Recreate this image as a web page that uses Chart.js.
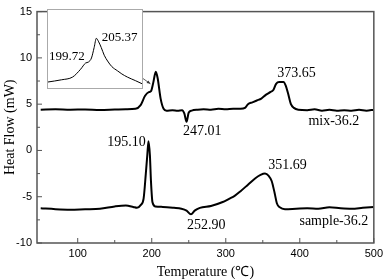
<!DOCTYPE html>
<html>
<head>
<meta charset="utf-8">
<script src="https://cdn.jsdelivr.net/npm/chart.js@4.4.1/dist/chart.umd.min.js"></script>
<style>
  html, body { margin: 0; padding: 0; background: #fff; }
  #wrap { position: relative; width: 387px; height: 279px; }
  #inset { position: absolute; left: 47px; top: 9px; width: 94px; height: 78px; border: 1px solid #aaa; background: #fff; }
</style>
</head>
<body>
<div id="wrap">
  <canvas id="main" width="387" height="279"></canvas>
  <div id="inset"><canvas id="zoom" width="94" height="78"></canvas></div>
</div>
<script>
// temperature (°C) and heat flow (mW)
const mixT = [50, 70, 90, 110, 130, 150, 165, 178, 185, 191, 196, 199, 202, 205.5, 208, 212, 216, 220, 228, 235, 241, 244, 247, 250, 254, 262, 270, 280, 290, 300, 310, 320, 326, 330, 336, 342, 348, 354, 360, 364, 368, 372, 378, 381, 384, 388, 392, 398, 410, 420, 430, 440, 450, 460, 470, 480, 490, 500];
const mixHF = [4.4, 4.45, 4.4, 4.42, 4.38, 4.42, 4.45, 4.5, 4.9, 5.9, 6.3, 6.4, 7.3, 8.5, 7.8, 5.6, 4.5, 4.3, 4.35, 4.3, 4.35, 4.0, 3.1, 4.1, 4.3, 4.4, 4.45, 4.4, 4.5, 4.45, 4.5, 4.5, 4.6, 5.0, 5.2, 5.4, 5.6, 6.0, 6.3, 6.5, 7.2, 7.4, 7.4, 7.0, 6.2, 5.0, 4.6, 4.4, 4.35, 4.45, 4.3, 4.4, 4.3, 4.35, 4.3, 4.4, 4.3, 4.4];

const sampleT = [50, 70, 90, 110, 130, 150, 165, 175, 180, 185, 189, 192, 194, 195.6, 197.5, 199, 201, 205, 215, 230, 240, 247, 253, 258, 265, 280, 295, 305, 312, 320, 330, 340, 347, 353, 358, 362, 366, 369, 373, 380, 395, 410, 425, 440, 455, 470, 485, 500];
const sampleHF = [-6.25, -6.35, -6.4, -6.35, -6.3, -6.05, -5.95, -6.1, -6.2, -5.9, -5.2, -2.5, -0.5, 1.0, -0.5, -3.4, -5.6, -6.05, -6.1, -6.2, -6.3, -6.5, -6.9, -6.5, -6.2, -6.0, -5.6, -5.2, -4.9, -4.4, -3.7, -3.0, -2.65, -2.5, -2.75, -3.3, -4.6, -5.7, -6.15, -6.35, -6.3, -6.25, -6.3, -6.15, -6.25, -6.3, -6.2, -6.1];

// inset: enlarged view of the mix-36.2 melting peak (arbitrary y units)
const insetT = [176, 184, 190.7, 195.4, 198.4, 200.1, 201.9, 203.5, 204.8, 206, 207.7, 209.5, 211.5, 214, 217.4, 220, 223.3, 228, 232];
const insetHF = [0.77, 1.05, 1.41, 2.4, 3.2, 3.33, 3.85, 5.2, 6.37, 6.0, 5.2, 4.2, 3.46, 2.75, 2.2, 1.8, 1.4, 0.95, 0.55];

const xTicks = [100, 200, 300, 400, 500];
const xMinor = [150, 250, 350, 450];
const yTicks = [-10, -5, 0, 5, 10, 15];
const yMinor = [-7.5, -2.5, 2.5, 7.5, 12.5];

const peakLabels = [
  { t: 192, v: 0.85, text: '195.10', align: 'right' },
  { t: 268.3, v: 2.05, text: '247.01', align: 'center' },
  { t: 395.5, v: 8.35, text: '373.65', align: 'center' },
  { t: 446, v: 3.1, text: 'mix-36.2', align: 'center' },
  { t: 273.6, v: -8.1, text: '252.90', align: 'center' },
  { t: 383.3, v: -1.63, text: '351.69', align: 'center' },
  { t: 446, v: -7.66, text: 'sample-36.2', align: 'center' }
];
const insetLabels = [
  { t: 187.3, v: 3.97, text: '199.72' },
  { t: 218.6, v: 6.5, text: '205.37' }
];
const arrowFrom = { t: 186.6, v: 7.86 };
const arrowTo = { t: 198.2, v: 7.2 };

const serif = "'Liberation Serif', 'Times New Roman', serif";
const sans = "'Liberation Sans', Arial, sans-serif";

function pts(xs, ys) { return xs.map((x, i) => ({ x: x, y: ys[i] })); }

const frame = {
  id: 'frame',
  afterDatasetsDraw(chart) {
    const { ctx, chartArea: a, scales: { x, y } } = chart;
    ctx.save();
    ctx.strokeStyle = '#555';
    ctx.lineWidth = 1.5;
    ctx.strokeRect(a.left, a.top, a.right - a.left, a.bottom - a.top);
    ctx.lineWidth = 1;
    ctx.beginPath();
    xTicks.forEach(t => { const px = x.getPixelForValue(t); ctx.moveTo(px, a.bottom); ctx.lineTo(px, a.bottom - 5); });
    xMinor.forEach(t => { const px = x.getPixelForValue(t); ctx.moveTo(px, a.bottom); ctx.lineTo(px, a.bottom - 3); });
    yTicks.forEach(v => { const py = y.getPixelForValue(v); ctx.moveTo(a.left, py); ctx.lineTo(a.left + 5, py); });
    yMinor.forEach(v => { const py = y.getPixelForValue(v); ctx.moveTo(a.left, py); ctx.lineTo(a.left + 3, py); });
    ctx.stroke();

    // peak labels
    ctx.fillStyle = '#000';
    ctx.font = '14px ' + serif;
    ctx.textBaseline = 'middle';
    peakLabels.forEach(l => {
      ctx.textAlign = l.align;
      ctx.fillText(l.text, x.getPixelForValue(l.t), y.getPixelForValue(l.v));
    });

    // arrow from inset to the peak
    const x1 = x.getPixelForValue(arrowFrom.t), y1 = y.getPixelForValue(arrowFrom.v);
    const x2 = x.getPixelForValue(arrowTo.t), y2 = y.getPixelForValue(arrowTo.v);
    const ang = Math.atan2(y2 - y1, x2 - x1);
    ctx.strokeStyle = '#333';
    ctx.lineWidth = 0.8;
    ctx.beginPath(); ctx.moveTo(x1, y1); ctx.lineTo(x2, y2); ctx.stroke();
    ctx.fillStyle = '#333';
    ctx.beginPath();
    ctx.moveTo(x2, y2);
    ctx.lineTo(x2 - 4 * Math.cos(ang - 0.4), y2 - 4 * Math.sin(ang - 0.4));
    ctx.lineTo(x2 - 4 * Math.cos(ang + 0.4), y2 - 4 * Math.sin(ang + 0.4));
    ctx.closePath(); ctx.fill();
    ctx.restore();
  }
};

new Chart(document.getElementById('main'), {
  type: 'line',
  data: {
    datasets: [
      { label: 'mix-36.2', data: pts(mixT, mixHF), borderColor: '#000', borderWidth: 2, pointRadius: 0, cubicInterpolationMode: 'monotone' },
      { label: 'sample-36.2', data: pts(sampleT, sampleHF), borderColor: '#000', borderWidth: 2, pointRadius: 0, cubicInterpolationMode: 'monotone' }
    ]
  },
  options: {
    responsive: false,
    animation: false,
    devicePixelRatio: 1,
    layout: { padding: { top: 5, right: 10, left: 0, bottom: 0 } },
    plugins: { legend: { display: false }, tooltip: { enabled: false } },
    scales: {
      x: {
        type: 'linear',
        min: 45,
        max: 500,
        afterBuildTicks: s => { s.ticks = xTicks.map(v => ({ value: v })); },
        afterFit: s => { s.height = 36; },
        grid: { display: false, drawTicks: false },
        border: { display: false },
        ticks: { color: '#000', font: { family: sans, size: 11 }, padding: 4, maxRotation: 0 },
        title: { display: true, text: 'Temperature (℃)', color: '#000', font: { family: serif, size: 14, lineHeight: 1 }, padding: 0 }
      },
      y: {
        min: -10,
        max: 15,
        afterBuildTicks: s => { s.ticks = yTicks.map(v => ({ value: v })); },
        afterFit: s => { s.width = 37; },
        grid: { display: false, drawTicks: false },
        border: { display: false },
        ticks: { color: '#000', font: { family: sans, size: 11 }, padding: 5 },
        title: { display: true, text: 'Heat Flow (mW)', color: '#000', font: { family: serif, size: 14, lineHeight: 1 }, padding: { top: 3, bottom: 0 } }
      }
    }
  },
  plugins: [frame]
});

const insetText = {
  id: 'insetText',
  afterDatasetsDraw(chart) {
    const { ctx, scales: { x, y } } = chart;
    ctx.save();
    ctx.fillStyle = '#000';
    ctx.font = '13px ' + serif;
    ctx.textAlign = 'center';
    ctx.textBaseline = 'middle';
    insetLabels.forEach(l => ctx.fillText(l.text, x.getPixelForValue(l.t), y.getPixelForValue(l.v)));
    ctx.restore();
  }
};

new Chart(document.getElementById('zoom'), {
  type: 'line',
  data: {
    datasets: [
      { data: pts(insetT, insetHF), borderColor: '#000', borderWidth: 1, pointRadius: 0, cubicInterpolationMode: 'monotone' }
    ]
  },
  options: {
    responsive: false,
    animation: false,
    devicePixelRatio: 1,
    layout: { padding: 0 },
    plugins: { legend: { display: false }, tooltip: { enabled: false } },
    scales: {
      x: { type: 'linear', min: 176, max: 232, display: false },
      y: { min: 0, max: 10, display: false }
    }
  },
  plugins: [insetText]
});
</script>
</body>
</html>
